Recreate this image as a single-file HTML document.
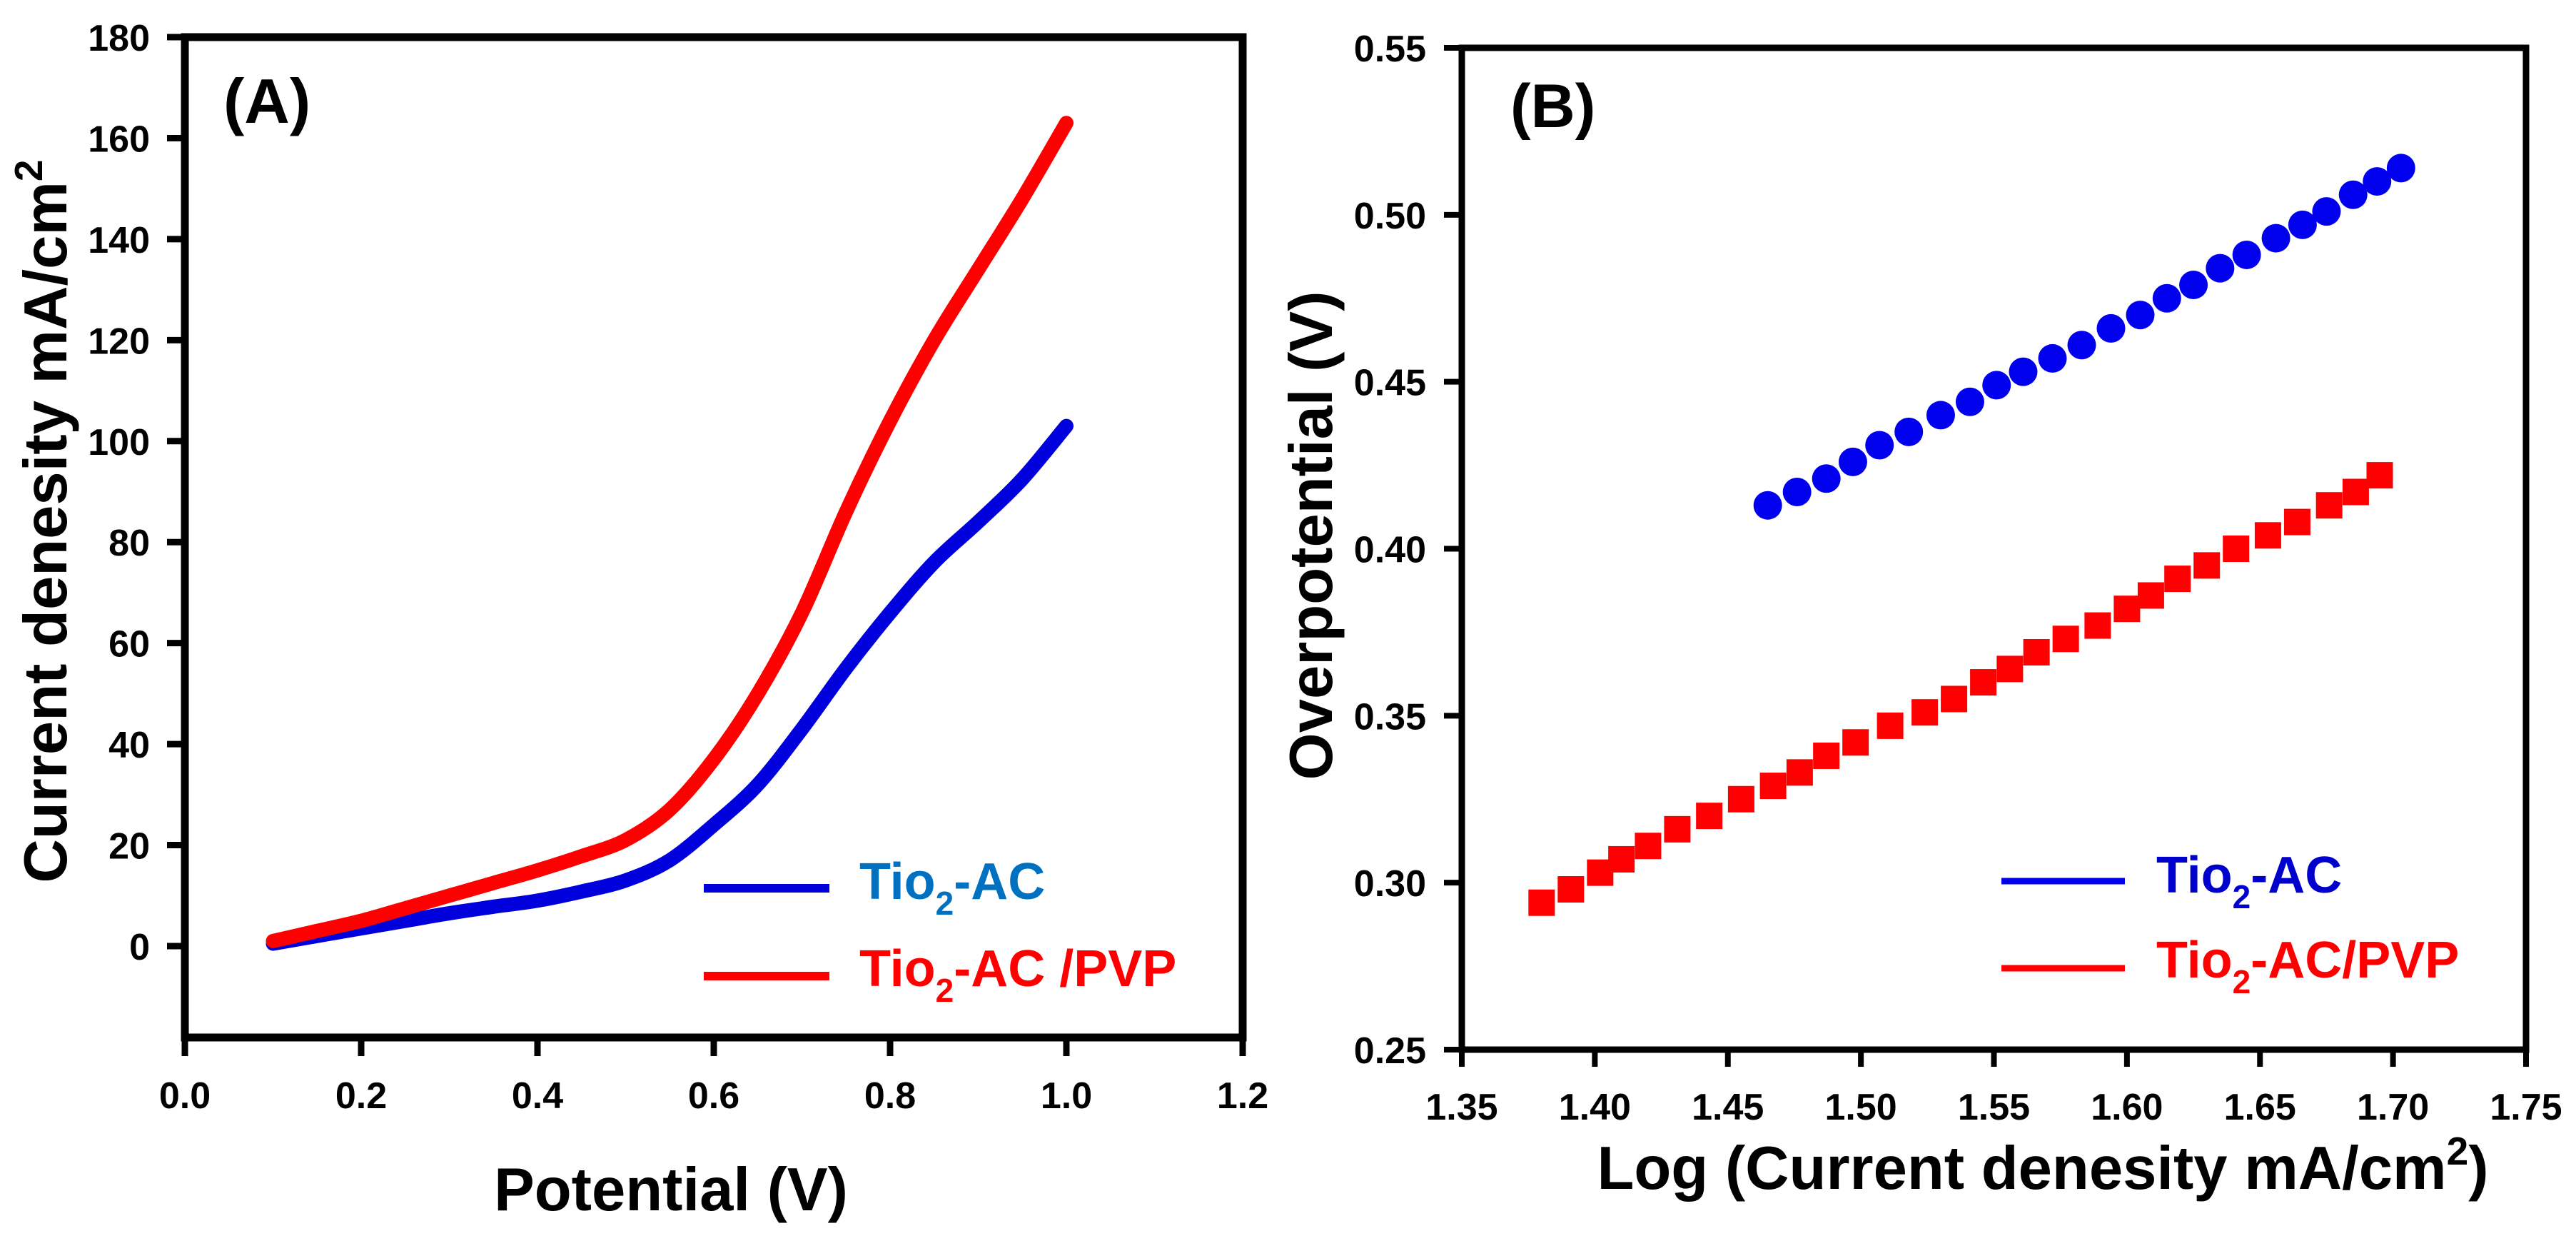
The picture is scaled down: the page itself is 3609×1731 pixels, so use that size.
<!DOCTYPE html>
<html><head><meta charset="utf-8"><style>
html,body{margin:0;padding:0;background:#fff;}
svg{display:block;font-family:"Liberation Sans",Arial,sans-serif;font-weight:bold;}
</style></head><body>
<svg id="fig" width="3609" height="1731" viewBox="0 0 3609 1731" xmlns="http://www.w3.org/2000/svg">
<rect width="3609" height="1731" fill="#fff"/>
<g id="chartA"></g>
<g id="chartB"></g>
</svg>
<script>
// ---- Chart A data ----
const aPotential = [0.10,0.15,0.20,0.25,0.30,0.35,0.40,0.45,0.50,0.55,0.60,0.65,0.70,0.75,0.80,0.85,0.90,0.95,1.00];
const aBlue = [0.5,2.0,3.5,5.0,6.5,7.8,9.0,10.8,13.0,17.0,24.0,32.0,43.0,55.0,66.0,76.0,84.0,92.5,103.0];
const aRed  = [1.0,3.0,5.0,7.5,10.0,12.5,15.0,17.8,21.0,27.0,37.0,50.0,66.0,86.0,104.0,120.0,134.0,148.0,163.0];
const aXTicks = ["0.0","0.2","0.4","0.6","0.8","1.0","1.2"];
const aYTicks = ["0","20","40","60","80","100","120","140","160","180"];
// ---- Chart B data ----
const bBlueX = [1.465,1.476,1.487,1.497,1.507,1.518,1.530,1.541,1.551,1.561,1.572,1.583,1.594,1.605,1.615,1.625,1.635,1.645,1.656,1.666,1.675,1.685,1.694,1.703];
const bBlueY = [0.413,0.417,0.421,0.426,0.431,0.435,0.440,0.444,0.449,0.453,0.457,0.461,0.466,0.470,0.475,0.479,0.484,0.488,0.493,0.497,0.501,0.506,0.510,0.514];
const bRedX = [1.380,1.391,1.402,1.410,1.420,1.431,1.443,1.455,1.467,1.477,1.487,1.498,1.511,1.524,1.535,1.546,1.556,1.566,1.577,1.589,1.600,1.609,1.619,1.630,1.641,1.653,1.664,1.676,1.686,1.695];
const bRedY = [0.294,0.298,0.303,0.307,0.311,0.316,0.320,0.325,0.329,0.333,0.338,0.342,0.347,0.351,0.355,0.360,0.364,0.369,0.373,0.377,0.382,0.386,0.391,0.395,0.400,0.404,0.408,0.413,0.417,0.422];
const bXTicks = ["1.35","1.40","1.45","1.50","1.55","1.60","1.65","1.70","1.75"];
const bYTicks = ["0.25","0.30","0.35","0.40","0.45","0.50","0.55"];

const NS="http://www.w3.org/2000/svg";
function mk(parent,tag,attrs,text){const e=document.createElementNS(NS,tag);for(const k in attrs)e.setAttribute(k,attrs[k]);if(text!==undefined)e.textContent=text;parent.appendChild(e);return e;}

// ===== Chart A =====
(function(){
const g=document.getElementById('chartA');
const L=259,R=1741,T=52,B=1453;
const xmin=0,xmax=1.2,ymin=-18.1,ymax=180;
const sx=v=>L+(v-xmin)/(xmax-xmin)*(R-L);
const sy=v=>B-(v-ymin)/(ymax-ymin)*(B-T);
function line(xs,ys,color,name){
  const P=xs.map((x,i)=>[sx(x),sy(ys[i])]);
  let d='M'+P[0][0].toFixed(1)+','+P[0][1].toFixed(1);
  for(let i=0;i<P.length-1;i++){
    const p0=P[Math.max(0,i-1)],p1=P[i],p2=P[i+1],p3=P[Math.min(P.length-1,i+2)];
    const c1=[p1[0]+(p2[0]-p0[0])/6,p1[1]+(p2[1]-p0[1])/6];
    const c2=[p2[0]-(p3[0]-p1[0])/6,p2[1]-(p3[1]-p1[1])/6];
    d+='C'+c1.map(v=>v.toFixed(1)).join(',')+' '+c2.map(v=>v.toFixed(1)).join(',')+' '+p2.map(v=>v.toFixed(1)).join(',');
  }
  const p=mk(g,'path',{d:d,fill:'none',stroke:color,'stroke-width':20,'stroke-linejoin':'round','stroke-linecap':'round'});
  
  
}
line(aPotential,aBlue,'#0000dd','tio2-ac-curve');
line(aPotential,aRed,'#ff0000','tio2-ac-pvp-curve');
const fr=mk(g,'rect',{x:L,y:T,width:R-L,height:B-T,fill:'none',stroke:'#000','stroke-width':11});


aXTicks.forEach(t=>{const v=parseFloat(t),x=sx(v);
  const tk=mk(g,'line',{x1:x,y1:B,x2:x,y2:B+26,stroke:'#000','stroke-width':9});
  
  
  const tl=mk(g,'text',{x:x,y:1552,'text-anchor':'middle','font-size':52},t);
  
  
});
aYTicks.forEach(t=>{const v=parseFloat(t),y=sy(v);
  const tk=mk(g,'line',{x1:L-25,y1:y,x2:L,y2:y,stroke:'#000','stroke-width':9});
  
  
  const tl=mk(g,'text',{x:210,y:y+19,'text-anchor':'end','font-size':52},t);
  
  
});
const xt=mk(g,'text',{x:940,y:1695,'text-anchor':'middle','font-size':85},'Potential (V)');


const yt=mk(g,'text',{x:0,y:0,'text-anchor':'middle','font-size':85,transform:'translate(93,730) rotate(-90)'});


mk(yt,'tspan',{},'Current denesity mA/cm');
mk(yt,'tspan',{'font-size':55,dy:-34},'2');
const pl=mk(g,'text',{x:313,y:172,'font-size':88},'(A)');


function leg(y,ty,color,tcol,main,rest,name){
  const ln=mk(g,'line',{x1:986,y1:y,x2:1162,y2:y,stroke:color,'stroke-width':12});
  
  
  const t=mk(g,'text',{x:1204,y:ty,'font-size':72,fill:tcol});
  
  
  mk(t,'tspan',{},main);mk(t,'tspan',{'font-size':46,dy:22},'2');mk(t,'tspan',{dy:-22},rest);
}
leg(1244,1259,'#0000dd','#0070c0','Tio','-AC','legend-tio2-ac');
leg(1367,1381,'#ff0000','#ff0000','Tio','-AC /PVP','legend-tio2-ac-pvp');
})();

// ===== Chart B =====
(function(){
const g=document.getElementById('chartB');
const L=2048,R=3539,T=67,B=1470;
const xmin=1.35,xmax=1.75,ymin=0.25,ymax=0.55;
const sx=v=>L+(v-xmin)/(xmax-xmin)*(R-L);
const sy=v=>B-(v-ymin)/(ymax-ymin)*(B-T);
bRedX.forEach((x,i)=>{
  const r=mk(g,'rect',{x:sx(x)-18.5,y:sy(bRedY[i])-18.5,width:37,height:37,fill:'#ff0000'});
  
  
});
bBlueX.forEach((x,i)=>{
  const c=mk(g,'circle',{cx:sx(x),cy:sy(bBlueY[i]),r:20,fill:'#0000ee'});
  
  
});
const fr=mk(g,'rect',{x:L,y:T,width:R-L,height:B-T,fill:'none',stroke:'#000','stroke-width':9});


bXTicks.forEach(t=>{const v=parseFloat(t),x=sx(v);
  const tk=mk(g,'line',{x1:x,y1:B,x2:x,y2:B+24,stroke:'#000','stroke-width':8});
  
  
  const tl=mk(g,'text',{x:x,y:1568,'text-anchor':'middle','font-size':52},t);
  
  
});
bYTicks.forEach(t=>{const v=parseFloat(t),y=sy(v);
  const tk=mk(g,'line',{x1:L-25,y1:y,x2:L,y2:y,stroke:'#000','stroke-width':8});
  
  
  const tl=mk(g,'text',{x:1998,y:y+19,'text-anchor':'end','font-size':52},t);
  
  
});
const xt=mk(g,'text',{x:2862,y:1665,'text-anchor':'middle','font-size':85});


mk(xt,'tspan',{},'Log (Current denesity mA/cm');mk(xt,'tspan',{'font-size':55,dy:-34},'2');mk(xt,'tspan',{dy:34},')');
const yt=mk(g,'text',{x:0,y:0,'text-anchor':'middle','font-size':85,transform:'translate(1866,750) rotate(-90)'},'Overpotential (V)');


const pl=mk(g,'text',{x:2116,y:178,'font-size':86},'(B)');


function leg(y,ty,color,tcol,main,rest,name){
  const ln=mk(g,'line',{x1:2804,y1:y,x2:2977,y2:y,stroke:color,'stroke-width':9});
  
  
  const t=mk(g,'text',{x:3021,y:ty,'font-size':72,fill:tcol});
  
  
  mk(t,'tspan',{},main);mk(t,'tspan',{'font-size':46,dy:22},'2');mk(t,'tspan',{dy:-22},rest);
}
leg(1234,1250,'#0000ee','#0000cc','Tio','-AC','legend-tio2-ac-b');
leg(1356,1369,'#ff0000','#ff0000','Tio','-AC/PVP','legend-tio2-ac-pvp-b');
})();
</script>
</body></html>
